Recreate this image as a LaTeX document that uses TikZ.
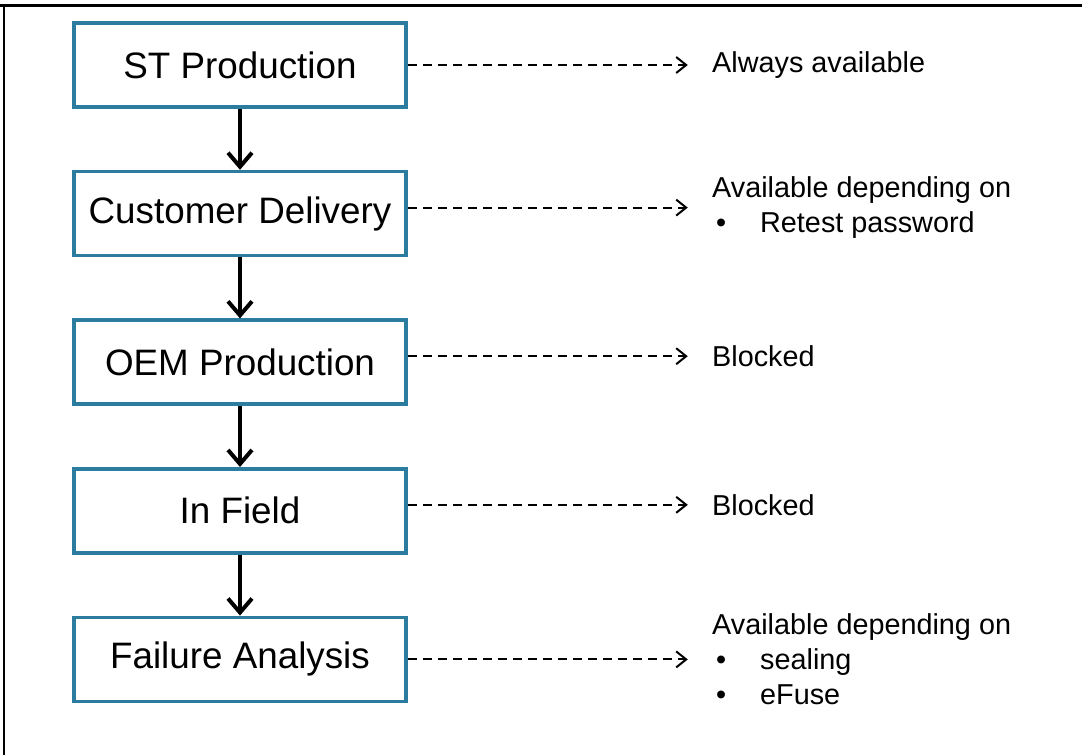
\documentclass[tikz,border=0pt]{standalone}
\usepackage{fontspec}
\setmainfont{Liberation Sans}
\usepackage{tikz}
\usetikzlibrary{positioning,arrows.meta}

\definecolor{stblue}{RGB}{44,124,160}
\newcommand{\bitem}[1]{\makebox[24pt][l]{\hspace{2pt}\textbullet}#1}

\begin{document}
\begin{tikzpicture}[x=0.5pt, y=-0.5pt]
  \tikzset{stage/.style={draw=stblue, line width=1.8pt, minimum width=166pt,
                         minimum height=42pt, inner sep=0pt,
                         font=\fontsize{18.4}{22}\selectfont},
           note/.style={anchor=west, align=left, inner xsep=12pt, inner ysep=0pt,
                        font=\fontsize{14.4}{17.5}\selectfont},
           flow/.style={line width=2pt, -{Straight Barb[length=7pt, width=12pt, line width=2pt]}},
           avail/.style={line width=1pt, dash pattern=on 4.5pt off 3pt,
                         -{Straight Barb[length=5pt, width=8pt, line width=1pt]}},
           node distance=30.5pt}
  \useasboundingbox (0,0) rectangle (1082,755);
  % frame
  \draw[line width=1.5pt] (0,5) -- (1082,5);
  \draw[line width=1pt] (4,5) -- (4,755);

  % stages
  \node[stage] (st) at (240,65) {ST Production};
  \node[stage, below=of st] (cd) {Customer Delivery};
  \node[stage, below=of cd] (oem) {OEM Production};
  \node[stage, below=of oem] (field) {In Field};
  \node[stage, below=of field] (fa) {Failure Analysis};

  \foreach \a/\b in {st/cd, cd/oem, oem/field, field/fa}
    \draw[flow] (\a) -- (\b);

  % availability
  \node[note, right=140pt of st] (st-n) {Always available};
  \node[note, right=140pt of cd, yshift=3pt] (cd-n) {Available depending on\\ \bitem{Retest password}};
  \node[note, right=140pt of oem, yshift=3pt] (oem-n) {Blocked};
  \node[note, right=140pt of field, yshift=3pt] (field-n) {Blocked};
  \node[note, right=140pt of fa] (fa-n) {Available depending on\\ \bitem{sealing}\\ \bitem{eFuse}};

  \foreach \s in {st, cd, oem, field, fa}
    \draw[avail] (\s.east |- \s-n.west) -- (\s-n.west);
\end{tikzpicture}
\end{document}
